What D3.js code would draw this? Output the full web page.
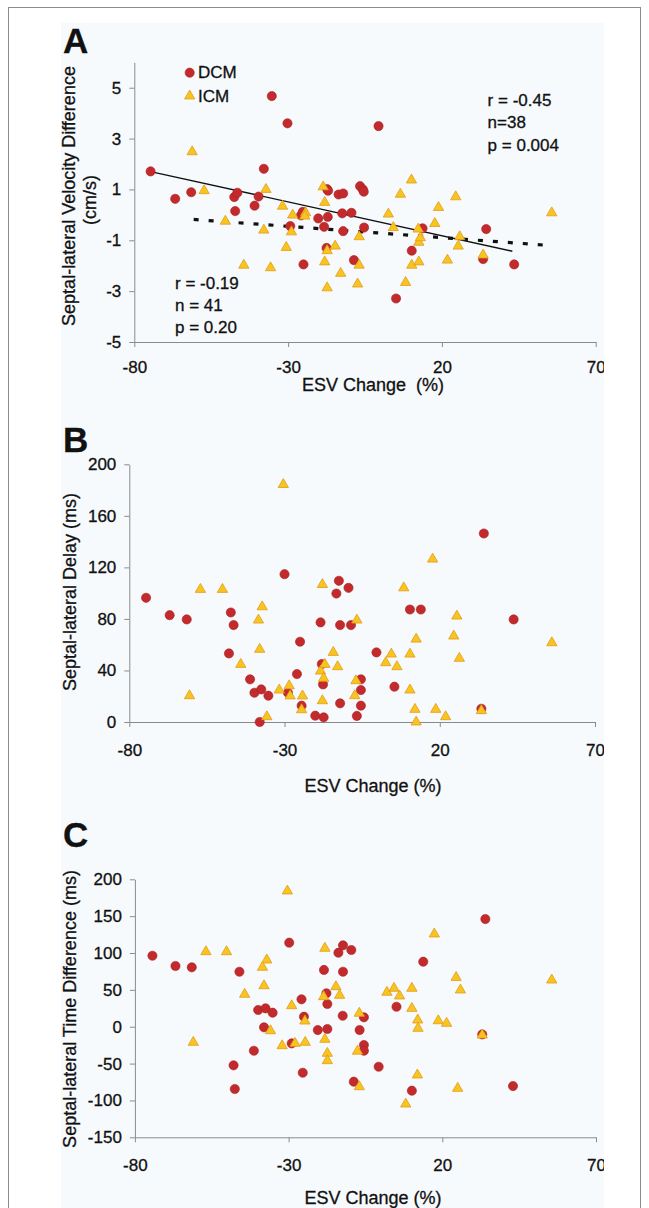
<!DOCTYPE html>
<html>
<head>
<meta charset="utf-8">
<script src="https://cdn.jsdelivr.net/npm/d3@7"></script>
<style>
  body { margin: 0; background: #fff; }
  svg text { font-family: "Liberation Sans", Arial, sans-serif; fill: #111; stroke: #111; stroke-width: 0.3px; }
  .tick text { font-size: 17px; }
  .axis path, .axis line { stroke: #8a8a8a; }
</style>
</head>
<body>
<svg id="chart" width="649" height="1208"></svg>
<script>
// x values: ESV change (%), y values: per panel
const xTicks = [-80, -30, 20, 70];
const yTicksA = [-5, -3, -1, 1, 3, 5];
const yTicksB = [0, 40, 80, 120, 160, 200];
const yTicksC = [-150, -100, -50, 0, 50, 100, 150, 200];

// Panel A: septal-lateral velocity difference (cm/s)
const dcmVelocity = [
  [-74.7, 1.71], [-66.7, 0.63], [-61.5, 0.89], [-47.5, 0.70], [-46.5, 0.87], [-47.2, 0.15],
  [-40.9, 0.36], [-39.6, 0.72], [-37.9, 1.81], [-35.3, 4.67], [-30.2, 3.60], [-0.6, 3.49],
  [-29.3, -0.44], [-25.8, -0.02], [-25.2, 0.12], [-25.0, -1.95], [-20.2, -0.14], [-18.3, -0.47],
  [-17.3, 1.01], [-17.1, -0.08], [-17.5, -1.30], [-13.6, 0.80], [-12.1, 0.84], [-12.4, 0.06],
  [-12.1, -0.64], [-9.4, 0.08], [-8.6, -1.78], [-6.6, 1.13], [-5.7, 1.00], [-5.4, 0.91],
  [-5.3, -0.50], [5.1, -3.29], [10.2, -1.41], [13.7, -0.53], [33.4, -1.74], [34.4, -0.56],
  [43.5, -1.95], [-17.0, 0.95]
];
const icmVelocity = [
  [-61.2, 2.48], [-57.3, 0.95], [-50.4, -0.25], [-44.4, -1.98], [-37.2, 1.00], [-37.9, -0.60],
  [-35.7, -2.08], [-31.8, 0.34], [-30.6, -1.28], [-28.9, -0.67], [-28.5, -0.01], [-24.3, 0.08],
  [-18.6, 1.10], [-18.1, 0.49], [-18.1, -1.85], [-17.3, -1.41], [-17.3, -2.87], [-14.7, -1.23],
  [-12.9, -2.30], [-6.9, -0.86], [-6.9, -1.98], [-7.4, -2.72], [2.6, 0.03], [4.2, -0.50],
  [6.5, 0.81], [8.2, -2.66], [10.1, 1.37], [10.2, -1.98], [12.3, -0.56], [12.5, -1.08],
  [12.5, -1.85], [17.7, -0.34], [18.9, 0.29], [21.8, -1.78], [24.5, 0.71], [25.8, -0.86],
  [25.3, -1.23], [33.4, -1.58], [55.7, 0.08], [-24.6, -0.05], [13.0, -0.90]
];
// fitted lines, end points in data units
const fitDcmA = [[-74.7, 1.70], [42.9, -1.43]];
const fitIcmA = [[-60.7, -0.18], [53.4, -1.19]];
const statsDcmA = ["r = -0.45", "n=38", "p = 0.004"];
const statsIcmA = ["r = -0.19", "n = 41", "p = 0.20"];

// Panel B: septal-lateral delay (ms)
const dcmDelay = [
  [-74.6, 96.4], [-67.0, 82.9], [-61.5, 79.6], [-47.3, 85.0], [-46.4, 75.2], [-47.9, 53.2],
  [-41.1, 33.1], [-39.7, 22.7], [-37.5, 25.3], [-38.0, 0.0], [-35.2, 20.4], [-30.0, 114.7],
  [-28.9, 22.7], [-26.0, 37.2], [-25.0, 62.3], [-24.5, 12.7], [-20.1, 4.9], [-18.4, 77.3],
  [-18.0, 45.0], [-17.6, 29.2], [-17.4, 3.6], [-13.3, 99.7], [-12.5, 109.6], [-12.1, 75.2],
  [-12.1, 14.5], [-9.4, 104.1], [-8.6, 75.2], [-6.7, 4.7], [-5.4, 33.1], [-5.4, 24.8],
  [-5.4, 12.7], [-0.4, 54.0], [5.4, 27.4], [10.4, 87.3], [13.9, 87.3], [33.4, 10.3],
  [43.8, 79.6], [34.2, 146.3]
];
const icmDelay = [
  [-30.4, 184.3], [17.7, 126.4], [-57.1, 102.9], [-50.0, 102.9], [-60.6, 20.4], [-44.1, 44.7],
  [-38.4, 79.1], [-37.2, 89.4], [-38.0, 56.4], [-35.7, 4.1], [-31.7, 24.8], [-28.5, 28.1],
  [-28.2, 20.2], [-24.2, 20.2], [-24.5, 9.5], [-17.8, 106.7], [-18.4, 39.5], [-17.0, 44.7],
  [-17.8, 16.5], [-17.4, 33.9], [-14.3, 54.0], [-12.9, 42.9], [-6.7, 79.1], [-7.0, 32.0],
  [-7.4, 20.4], [2.6, 46.0], [4.4, 52.7], [6.2, 42.9], [8.4, 104.1], [10.4, 52.7],
  [10.4, 24.8], [12.4, 64.3], [12.0, 9.8], [12.4, 0.0], [18.7, 9.8], [21.9, 4.1],
  [24.5, 66.7], [25.5, 82.2], [26.3, 49.4], [33.4, 8.8], [56.1, 61.5]
];

// Panel C: septal-lateral time difference (ms)
const dcmTime = [
  [-74.3, 96.3], [-66.8, 82.4], [-61.5, 80.6], [-46.0, 74.6], [-29.8, 114.0], [-18.5, 77.0],
  [-13.8, 100.4], [-12.3, 110.4], [-12.3, 74.6], [-9.6, 104.1], [13.8, 88.2], [34.0, 146.1],
  [-25.8, 37.2], [-17.7, 45.3], [-17.4, 30.8], [-39.9, 22.7], [-37.5, 24.9], [-35.2, 19.0],
  [-25.0, 13.6], [-12.4, 14.9], [-5.5, 12.8], [-38.0, -0.8], [-20.5, -4.5], [-17.4, -3.1],
  [-6.9, -4.5], [5.1, 27.1], [-5.5, -24.8], [-5.5, -32.6], [-29.0, -22.6], [-41.3, -32.6],
  [-47.9, -52.4], [-47.5, -84.5], [-25.4, -62.4], [-0.7, -54.3], [-8.8, -74.6], [10.1, -86.8],
  [33.0, -10.4], [43.0, -80.5]
];
const icmTime = [
  [-30.4, 184.1], [17.4, 125.8], [-56.9, 101.8], [-50.2, 101.8], [-18.2, 106.4], [-37.1, 90.5],
  [-38.5, 80.6], [24.5, 66.8], [55.6, 63.3], [-38.0, 55.6], [-44.3, 44.0], [-29.0, 28.5],
  [-14.6, 54.3], [-13.4, 42.6], [-18.6, 40.7], [-24.7, 7.7], [-35.9, -5.4], [-61.0, -21.2],
  [-32.1, -25.8], [-27.9, -22.6], [-24.6, -21.2], [-18.2, -17.1], [-17.4, -36.1], [-17.4, -46.1],
  [-7.0, 18.2], [-7.6, -33.2], [-7.0, -81.4], [2.0, 46.7], [4.3, 52.1], [6.1, 41.7],
  [10.1, 52.1], [10.1, 24.9], [12.0, 9.1], [12.1, -2.2], [11.9, -65.5], [8.1, -104.9],
  [18.7, 8.1], [21.4, 4.6], [25.9, 49.8], [25.0, -83.6], [33.0, -11.3]
];

const svg = d3.select("#chart");

// outer frame
svg.append("rect")
  .attr("x", 8.5).attr("y", 7.5)
  .attr("width", 632).attr("height", 1210)
  .attr("fill", "#fff")
  .attr("stroke", "#8c8c8c")
  .attr("stroke-width", 1);

svg.append("clipPath").attr("id", "figClip")
  .append("rect").attr("x", 0).attr("y", 0).attr("width", 604).attr("height", 1208);

const fig = svg.append("g").attr("clip-path", "url(#figClip)");

fig.append("rect")
  .attr("x", 61).attr("y", 23)
  .attr("width", 545).attr("height", 1190)
  .attr("fill", "#f7fafd");

const triangle = d3.symbol(d3.symbolTriangle).size(46);
const plainNum = function (d) { return String(d); };

function panel(opts) {
  var x = d3.scaleLinear().domain([-80, 70]).range([opts.left, opts.right]);
  var y = d3.scaleLinear().domain(opts.yDomain).range([opts.bottom, opts.top]);
  var g = fig.append("g");

  g.append("g")
    .attr("class", "axis")
    .attr("transform", "translate(0," + opts.bottom + ")")
    .call(d3.axisBottom(x).tickValues(xTicks).tickFormat(plainNum)
      .tickSize(5).tickSizeOuter(0).tickPadding(opts.xPad))
    .call(function (a) { a.selectAll("text").attr("fill", "#111"); });

  g.append("g")
    .attr("class", "axis")
    .attr("transform", "translate(" + opts.left + ",0)")
    .call(d3.axisLeft(y).tickValues(opts.yTicks).tickFormat(plainNum)
      .tickSize(5).tickSizeOuter(0).tickPadding(8))
    .call(function (a) { a.selectAll("text").attr("fill", "#111"); });

  // panel letter
  g.append("text")
    .attr("x", 63).attr("y", opts.letterY)
    .attr("font-size", 35).attr("font-weight", "bold")
    .text(opts.letter);

  // y title (one or two lines)
  opts.yTitle.forEach(function (t, i) {
    g.append("text")
      .attr("transform", "translate(" + opts.yTitleX[i] + "," + opts.yTitleY[i] + ") rotate(-90)")
      .attr("text-anchor", "middle")
      .attr("dominant-baseline", "central")
      .attr("font-size", 18)
      .text(t);
  });

  g.append("text")
    .attr("x", 373).attr("y", opts.xTitleY)
    .attr("text-anchor", "middle")
    .attr("dominant-baseline", "central")
    .attr("font-size", 18)
    .style("white-space", "pre")
    .text(opts.xTitle);

  // fitted lines
  var line = d3.line().x(function (d) { return x(d[0]); }).y(function (d) { return y(d[1]); });
  if (opts.fitDcm) {
    g.append("path").datum(opts.fitDcm)
      .attr("d", line).attr("stroke", "#111").attr("stroke-width", 1.4).attr("fill", "none");
  }
  if (opts.fitIcm) {
    g.append("path").datum(opts.fitIcm)
      .attr("d", line).attr("stroke", "#111").attr("stroke-width", 3.2)
      .attr("stroke-dasharray", "5,10").attr("fill", "none");
  }

  g.selectAll(".dcm")
    .data(opts.dcm)
    .enter()
    .append("circle")
    .attr("class", "dcm")
    .attr("cx", function (d) { return x(d[0]); })
    .attr("cy", function (d) { return y(d[1]); })
    .attr("r", 4.6)
    .attr("fill", "#c22a2c")
    .attr("stroke", "#a82024")
    .attr("stroke-width", 0.6);

  g.selectAll(".icm")
    .data(opts.icm)
    .enter()
    .append("path")
    .attr("class", "icm")
    .attr("d", triangle)
    .attr("transform", function (d) { return "translate(" + x(d[0]) + "," + y(d[1]) + ")"; })
    .attr("fill", "#f8c51f")
    .attr("stroke", "#e39a1a")
    .attr("stroke-width", 0.8);

  return { x: x, y: y, g: g };
}

var pA = panel({
  letter: "A", letterY: 53,
  left: 134.3, right: 595.7, top: 62.3, bottom: 342,
  yDomain: [-5, 6], yTicks: yTicksA, xPad: 14,
  yTitle: ["Septal-lateral Velocity Difference", "(cm/s)"],
  yTitleX: [69, 90], yTitleY: [196, 200],
  xTitle: "ESV Change  (%)", xTitleY: 385,
  dcm: dcmVelocity, icm: icmVelocity, fitDcm: fitDcmA, fitIcm: fitIcmA
});

panel({
  letter: "B", letterY: 452,
  left: 129.3, right: 595, top: 464.3, bottom: 722,
  yDomain: [0, 200], yTicks: yTicksB, xPad: 17,
  yTitle: ["Septal-lateral Delay (ms)"],
  yTitleX: [70], yTitleY: [592],
  xTitle: "ESV Change (%)", xTitleY: 786,
  dcm: dcmDelay, icm: icmDelay
});

panel({
  letter: "C", letterY: 847,
  left: 134.9, right: 596, top: 879.3, bottom: 1137.3,
  yDomain: [-150, 200], yTicks: yTicksC, xPad: 17,
  yTitle: ["Septal-lateral Time Difference (ms)"],
  yTitleX: [70], yTitleY: [1009],
  xTitle: "ESV Change (%)", xTitleY: 1198,
  dcm: dcmTime, icm: icmTime
});

// legend and stats in panel A
var legend = pA.g.append("g");
legend.append("circle").attr("cx", 189.7).attr("cy", 72.7).attr("r", 4.6)
  .attr("fill", "#c22a2c").attr("stroke", "#a82024").attr("stroke-width", 0.6);
legend.append("text").attr("x", 198).attr("y", 72.7).attr("dominant-baseline", "central")
  .attr("font-size", 17).text("DCM");
legend.append("path").attr("d", triangle).attr("transform", "translate(189.7,96)")
  .attr("fill", "#f8c51f").attr("stroke", "#e39a1a").attr("stroke-width", 0.8);
legend.append("text").attr("x", 198).attr("y", 96).attr("dominant-baseline", "central")
  .attr("font-size", 17).text("ICM");

pA.g.selectAll(".statDcm")
  .data(statsDcmA)
  .enter()
  .append("text")
  .attr("x", 487.6)
  .attr("y", function (d, i) { return 100 + i * 22.5; })
  .attr("dominant-baseline", "central")
  .attr("font-size", 17)
  .text(function (d) { return d; });

pA.g.selectAll(".statIcm")
  .data(statsIcmA)
  .enter()
  .append("text")
  .attr("x", 175)
  .attr("y", function (d, i) { return 283.3 + i * 22.2; })
  .attr("dominant-baseline", "central")
  .attr("font-size", 17)
  .text(function (d) { return d; });
</script>
</body>
</html>
